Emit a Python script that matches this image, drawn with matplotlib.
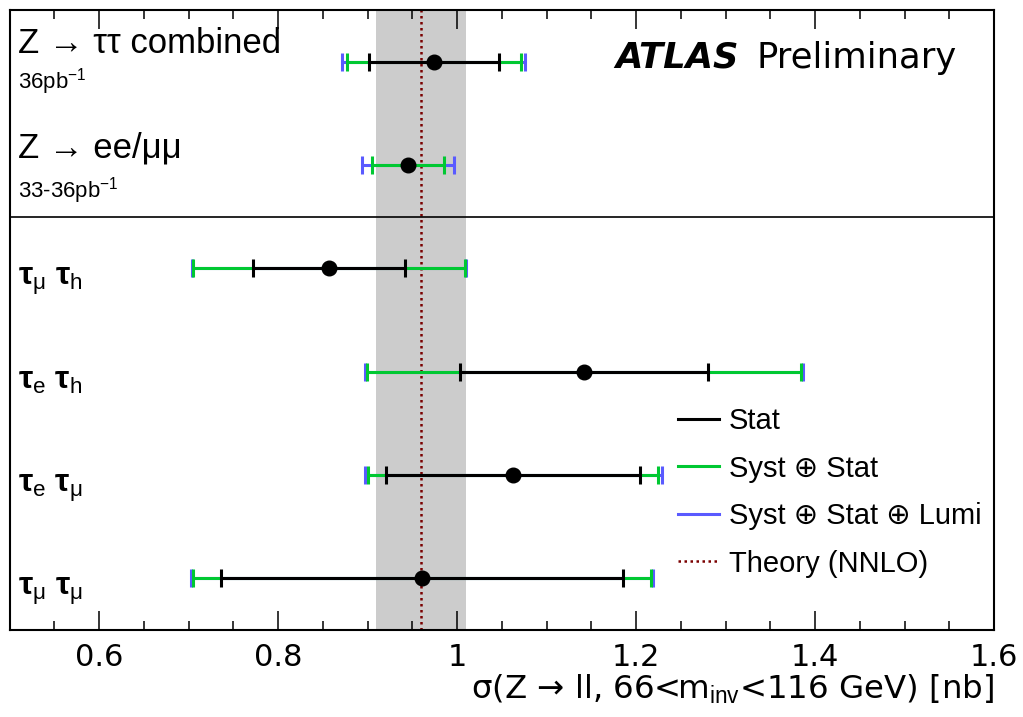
import matplotlib
matplotlib.use("Agg")
import matplotlib.pyplot as plt
from matplotlib.lines import Line2D
from matplotlib.ticker import MultipleLocator

plt.rcParams['font.family'] = ['Liberation Sans', 'DejaVu Sans']
plt.rcParams['mathtext.fontset'] = 'custom'
plt.rcParams['mathtext.rm'] = 'Liberation Sans'
plt.rcParams['mathtext.it'] = 'Liberation Sans:italic'
plt.rcParams['mathtext.bf'] = 'Liberation Sans:bold'

# ---- measurements (nb) ----
channels = ["Z → ττ combined", "Z → ee/μμ",
            "τ$_{\\mathrm{\\mu}}$ τ$_{\\mathrm{h}}$",
            "τ$_{\\mathrm{e}}$ τ$_{\\mathrm{h}}$",
            "τ$_{\\mathrm{e}}$ τ$_{\\mathrm{\\mu}}$",
            "τ$_{\\mathrm{\\mu}}$ τ$_{\\mathrm{\\mu}}$"]
lumi_labels = ["36pb$^{-1}$", "33-36pb$^{-1}$"]
sigma = [0.974, 0.945, 0.857, 1.142, 1.063, 0.961]
err_stat = [0.0725, 0.0, 0.085, 0.139, 0.142, 0.225]
err_syst_stat = [0.097, 0.0405, 0.152, 0.2425, 0.162, 0.256]
err_total = [0.102, 0.0515, 0.1535, 0.245, 0.166, 0.258]

theory = 0.96
theory_err = 0.05

tick_values = [0.6, 0.8, 1.0, 1.2, 1.4, 1.6]
tick_labels = ["0.6", "0.8", "1", "1.2", "1.4", "1.6"]

legend_labels = ["Stat", "Syst ⊕ Stat", "Syst ⊕ Stat ⊕ Lumi", "Theory (NNLO)"]

# ---- styling ----
c_stat = "black"
c_syst = "#00c832"
c_total = "#5a5aff"
c_theory = "#7a0000"
c_band = "#cccccc"
theory_ls = (0, (1.0, 1.4))

W, H = 1023, 717
fig = plt.figure(figsize=(W / 100, H / 100), dpi=100)
AX_L, AX_R, AX_T, AX_B = 9.5, 994.0, 10.0, 630.0
ax = fig.add_axes([AX_L / W, 1 - AX_B / H, (AX_R - AX_L) / W, (AX_B - AX_T) / H])


def frac(px, py):
    """Pixel position in the figure -> axes fraction."""
    return ((px - AX_L) / (AX_R - AX_L), (AX_B - py) / (AX_B - AX_T))


rows = list(range(len(channels)))

# theory band and central value
ax.axvspan(theory - theory_err, theory + theory_err, color=c_band, lw=0, zorder=0)
ax.axvline(theory, color=c_theory, lw=1.8, ls=theory_ls, zorder=1)

# separator between reference results and individual channels
ax.axhline(1.5, color="black", lw=1.2, zorder=1)

common = dict(fmt="none", elinewidth=2.2, capsize=6.2, capthick=2.2)
ax.errorbar(sigma, rows, xerr=err_total, ecolor=c_total, zorder=2, **common)
ax.errorbar(sigma, rows, xerr=err_syst_stat, ecolor=c_syst, zorder=3, **common)
stat_rows = [r for r in rows if err_stat[r] > 0]
ax.errorbar([sigma[r] for r in stat_rows], stat_rows,
            xerr=[err_stat[r] for r in stat_rows], ecolor=c_stat, zorder=4, **common)
ax.plot(sigma, rows, "o", color="black", ms=10.5, zorder=5)

ax.set_xlim(0.5, 1.6)
ax.set_ylim(5.5, -0.5)

# axes and ticks
for s in ax.spines.values():
    s.set_linewidth(1.5)
ax.set_yticks([])
ax.set_xticks(tick_values, tick_labels)
ax.xaxis.set_minor_locator(MultipleLocator(0.05))
ax.tick_params(axis="x", which="both", direction="in", top=True, bottom=True, width=1.1)
ax.tick_params(axis="x", which="major", length=13.5, pad=9, labelsize=22)
ax.tick_params(axis="x", which="minor", length=6.5)
for lbl in ax.get_xticklabels():
    lbl.set_fontfamily("DejaVu Sans")

ax.set_xlabel("σ(Z → ll, 66<m$_{\\mathrm{inv}}$<116 GeV) [nb]", loc="right",
              fontsize=23.3, family="DejaVu Sans", labelpad=1)

# channel labels
ytr = ax.get_yaxis_transform()
x_lab = frac(18, 0)[0]
ax.text(x_lab, -0.084, channels[0], transform=ytr, fontsize=25, va="baseline", ha="left")
ax.text(x_lab, 0.255, lumi_labels[0], transform=ytr, fontsize=16, va="baseline", ha="left")
ax.text(x_lab, 0.923, channels[1], transform=ytr, fontsize=25, va="baseline", ha="left")
ax.text(x_lab, 1.31, lumi_labels[1], transform=ytr, fontsize=16, va="baseline", ha="left")
for r in rows[2:]:
    ax.text(x_lab, r + 0.165, channels[r], transform=ytr,
            fontsize=23, fontweight="bold", va="baseline", ha="left")

# experiment tag
ax.text(*frac(615, 68), "ATLAS", transform=ax.transAxes, fontsize=25.5,
        fontweight="bold", fontstyle="italic", family="DejaVu Sans", va="baseline")
ax.text(*frac(757, 68), "Preliminary", transform=ax.transAxes, fontsize=25.5,
        family="DejaVu Sans", va="baseline")

# legend
handles = [Line2D([], [], color=c_stat, lw=2.2),
           Line2D([], [], color=c_syst, lw=2.2),
           Line2D([], [], color=c_total, lw=2.2),
           Line2D([], [], color=c_theory, lw=1.8, ls=theory_ls)]
ax.legend(handles, legend_labels, loc="upper left", bbox_to_anchor=frac(678, 407),
          frameon=False, fontsize=21, handlelength=1.4, handletextpad=0.35,
          labelspacing=0.67, borderpad=0, borderaxespad=0)

fig.savefig("out.png", dpi=100)
